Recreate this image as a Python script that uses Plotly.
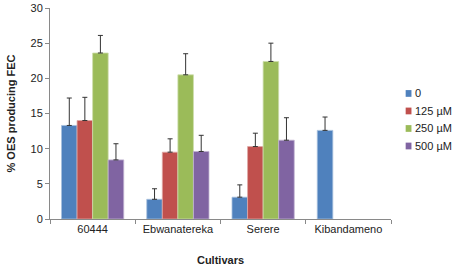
import plotly.graph_objects as go

cultivars = ["60444", "Ebwanatereka", "Serere", "Kibandameno"]
series_names = ["0", "125 µM", "250 µM", "500 µM"]
values = [
    [13.3, 2.8, 3.1, 12.6],
    [14.0, 9.5, 10.3, None],
    [23.6, 20.5, 22.4, None],
    [8.4, 9.6, 11.2, None],
]
errors = [
    [3.9, 1.5, 1.75, 1.9],
    [3.3, 1.9, 1.9, 0],
    [2.5, 3.0, 2.6, 0],
    [2.3, 2.3, 3.2, 0],
]
colors = ["#4F81BD", "#C0504D", "#9BBB59", "#8064A2"]
edge = ["#A7C0DE", "#E0A8A6", "#CDDDAC", "#C0B2D1"]

fig = go.Figure()
for name, vals, errs, c, e in zip(series_names, values, errors, colors, edge):
    fig.add_trace(go.Bar(
        x=cultivars, y=vals, name=name, showlegend=False,
        marker=dict(color=c, line=dict(color=e, width=0.8)),
        error_y=dict(type="data", array=errs, arrayminus=[0] * len(errs),
                     symmetric=False, color="#333333", thickness=1, width=2.5),
    ))

# manual legend (to the right of the plot area)
leg_x0 = 1.043   # paper x of square left edge
leg_y0 = 0.595   # paper y of first row center
row_h = 0.083
for i, (name, c) in enumerate(zip(series_names, colors)):
    yc = leg_y0 - i * row_h
    fig.add_shape(type="rect", xref="paper", yref="paper",
                  x0=leg_x0, x1=leg_x0 + 0.017, y0=yc - 0.016, y1=yc + 0.016,
                  fillcolor=c, line=dict(width=0))
    fig.add_annotation(x=leg_x0 + 0.022, y=yc, xref="paper", yref="paper",
                       text=name, showarrow=False, xanchor="left", yanchor="middle",
                       font=dict(size=11, color="#222222"))

axis_color = "#898989"
fig.update_layout(
    width=454, height=268,
    margin=dict(l=50, r=63, t=8, b=49, autoexpand=False),
    paper_bgcolor="white", plot_bgcolor="white",
    barmode="group", bargap=0.27, bargroupgap=0,
    font=dict(family="Liberation Sans, Arial, sans-serif", size=11, color="#222222"),
    xaxis=dict(type="category", showline=True, linecolor=axis_color, linewidth=1,
               ticks="outside", tickson="boundaries", ticklen=4, tickcolor=axis_color,
               showgrid=False, tickangle=0, automargin=False,
               title=dict(text="<b>Cultivars</b>", font=dict(size=11), standoff=22)),
    yaxis=dict(range=[0, 30], dtick=5, showline=True, linecolor=axis_color, linewidth=1,
               ticks="outside", ticklen=4, tickcolor=axis_color, showgrid=False,
               zeroline=False, automargin=False,
               title=dict(text="<b>% OES producing FEC</b>", font=dict(size=11), standoff=12)),
)

fig.write_html("out.html", config={"displayModeBar": False},
               post_script="document.body.style.margin='0';document.body.style.overflow='hidden';")
